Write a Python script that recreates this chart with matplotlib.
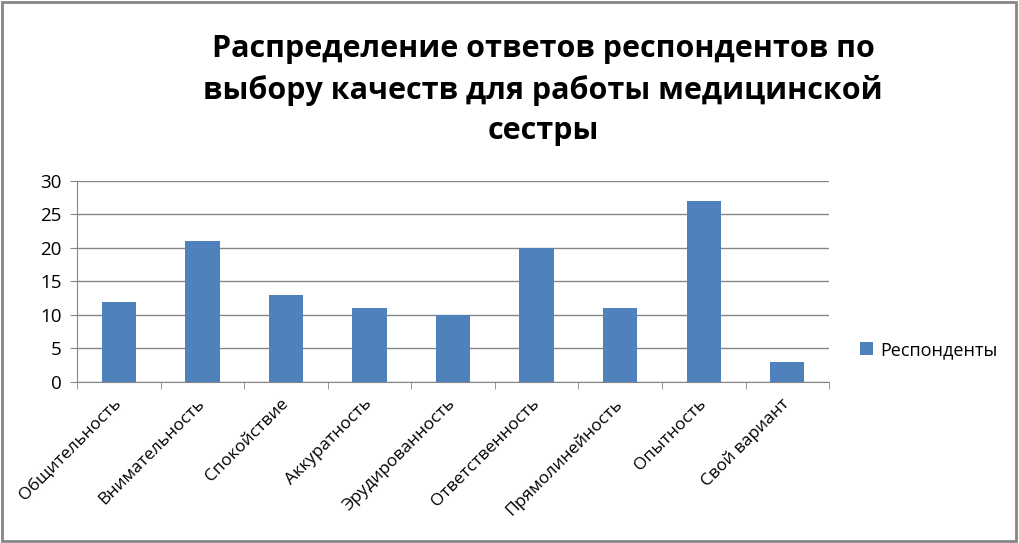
import matplotlib.pyplot as plt
import numpy as np
from matplotlib.patches import Rectangle

plt.rcParams['font.family'] = ['Open Sans', 'DejaVu Sans']

# data
categories = ['Общительность', 'Внимательность', 'Спокойствие', 'Аккуратность',
              'Эрудированность', 'Ответственность', 'Прямолинейность', 'Опытность',
              'Свой вариант']
respondents = [12, 21, 13, 11, 10, 20, 11, 27, 3]
series_name = 'Респонденты'
title = 'Распределение ответов респондентов по\nвыбору качеств для работы медицинской\nсестры'

bar_color = '#4F81BD'
grid_color = '#868686'

fig = plt.figure(figsize=(10.19, 5.43), dpi=100)
ax = fig.add_axes([0.0756, 0.2965, 0.738, 0.3702])

x = np.arange(len(categories))
ax.bar(x, respondents, width=0.41, color=bar_color, zorder=3, label=series_name)

ax.set_xlim(-0.5, len(categories) - 0.5)
ax.set_ylim(0, 30)
ax.set_yticks(range(0, 31, 5))
ax.yaxis.grid(True, color=grid_color, linewidth=1)
ax.set_axisbelow(True)

for side in ['top', 'right']:
    ax.spines[side].set_visible(False)
ax.spines['left'].set_color(grid_color)
ax.spines['bottom'].set_color(grid_color)

ax.set_xticks(x)
ax.set_xticklabels(categories, rotation=45, ha='right', va='center',
                   rotation_mode='anchor', fontsize=12.5)
ax.tick_params(axis='x', which='major', length=0, pad=14)
ax.set_xticks(np.arange(-0.5, len(categories), 1), minor=True)
ax.tick_params(axis='x', which='minor', length=5, color=grid_color)
ax.tick_params(axis='y', length=5, color=grid_color, labelsize=13.5, pad=6)

fig.text(0.533, 1 - 90 / 543, title, fontsize=22, fontweight='bold',
         ha='center', va='center', linespacing=1.45)

ax.legend(loc='center left', bbox_to_anchor=(1.02, 0.16), frameon=False,
          fontsize=13, handlelength=0.7, handleheight=0.7, handletextpad=0.4)

# outer chart border
fig.patches.append(Rectangle((0.002, 0.003), 0.995, 0.994, transform=fig.transFigure,
                             fill=False, edgecolor=grid_color, linewidth=2))

fig.savefig('out.png', dpi=100)
